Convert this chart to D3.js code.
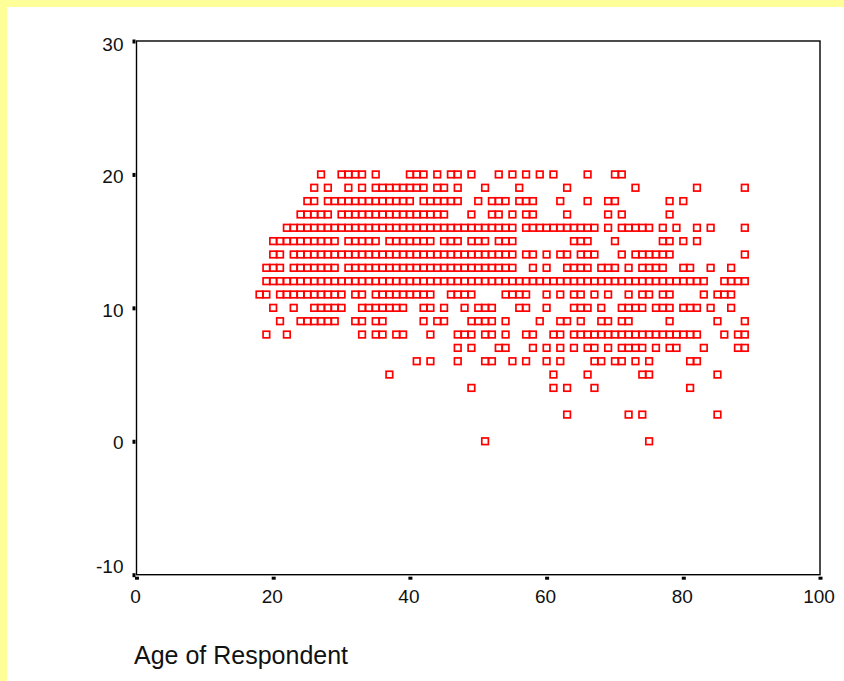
<!DOCTYPE html>
<html><head><meta charset="utf-8">
<script src="https://cdn.jsdelivr.net/npm/d3@7"></script>
<style>html,body{margin:0;padding:0;background:#fff}svg{display:block}text{font-family:"Liberation Sans",Arial,sans-serif;fill:#111}</style>
</head><body><div id="chart"></div>
<script>
const xLabel = "Age of Respondent";
const xTicks = [0,20,40,60,80,100];
const yTicks = [-10,0,10,20,30];
const ageRange = [0,100];
const valueRange = [-10,30];
// ages observed at each value
const v20 = [27,30,31,32,33,35,40,41,42,44,46,47,49,53,55,57,59,61,66,70,71];
const v19 = [26,28,31,33,35,36,37,38,39,40,41,42,44,45,47,51,56,63,73,82,89];
const v18 = [25,26,28,29,30,31,32,33,34,35,36,37,38,39,40,42,43,44,45,46,47,50,52,53,54,56,57,58,62,66,69,70,78,80];
const v17 = [24,25,26,27,28,30,31,32,33,34,35,36,37,38,39,40,41,42,43,44,45,49,52,53,55,57,58,63,69,71,78];
const v16 = [22,23,24,25,26,27,28,29,30,31,32,33,34,35,36,37,38,39,40,41,42,43,44,45,46,47,48,49,50,51,52,53,54,55,57,58,59,60,61,62,63,64,65,66,67,69,71,72,73,74,75,77,79,82,84,89];
const v15 = [20,21,22,23,24,25,26,27,28,29,31,32,33,34,35,37,38,39,40,41,42,43,45,46,47,49,50,51,53,54,55,64,65,66,70,77,78,80,82];
const v14 = [20,21,23,24,25,26,27,28,29,30,31,32,33,34,35,36,37,38,39,40,41,42,43,44,45,46,47,48,49,50,51,52,53,54,55,57,58,60,62,63,65,66,67,71,73,74,75,76,77,78,89];
const v13 = [19,20,21,23,24,25,26,27,28,29,31,32,33,34,35,36,37,38,39,40,41,42,43,44,45,46,47,48,49,50,51,52,53,54,55,58,60,63,64,65,66,68,69,70,72,74,75,76,77,80,81,84,87];
const v12 = [19,20,21,22,23,24,25,26,27,28,29,30,31,32,33,34,35,36,37,38,39,40,41,42,43,44,45,46,47,48,49,50,51,52,53,54,55,56,57,58,59,60,61,62,63,64,65,66,67,68,69,70,71,72,73,74,75,76,77,78,79,80,81,82,83,86,87,88,89];
const v11 = [18,19,21,22,23,24,25,26,27,28,29,30,32,33,35,36,37,38,39,40,41,42,43,46,47,48,49,54,55,56,57,60,62,64,65,67,69,72,74,75,77,78,83,85,86,87];
const v10 = [20,23,26,27,28,29,30,33,34,35,36,37,38,39,42,43,45,48,50,51,52,56,57,60,64,65,66,68,71,72,73,74,76,77,78,80,81,82,84,87];
const v9 = [21,24,25,26,27,28,29,32,33,35,36,42,44,45,49,50,51,52,54,59,62,63,65,68,69,71,72,78,85,89];
const v8 = [19,22,33,35,36,38,39,43,47,48,49,51,52,54,57,58,61,62,64,65,66,67,68,69,70,71,72,73,74,75,76,77,78,79,80,81,82,86,88,89];
const v7 = [47,49,53,54,58,60,62,64,66,67,69,71,72,73,74,76,78,79,83,88,89];
const v6 = [41,43,47,51,52,55,57,60,62,67,68,70,71,73,75,81,82];
const v5 = [37,61,66,74,75,85];
const v4 = [49,61,63,67,81];
const v2 = [63,72,74,85];
const v0 = [51,75];
const rows = [[20,v20],[19,v19],[18,v18],[17,v17],[16,v16],[15,v15],[14,v14],[13,v13],[12,v12],[11,v11],[10,v10],[9,v9],[8,v8],[7,v7],[6,v6],[5,v5],[4,v4],[2,v2],[0,v0]];
const points = rows.flatMap(([v,ages]) => ages.map(a => ({age:a,value:v})));

const W=844,H=681;
const svg=d3.select("#chart").append("svg").attr("width",W).attr("height",H);
svg.append("rect").attr("width",W).attr("height",H).attr("fill","#ffff99");
svg.append("rect").attr("x",7).attr("y",7).attr("width",W-7).attr("height",H-7).attr("fill","#fff");

const x=d3.scaleLinear().domain(ageRange).range([136.5,820]);
const y=d3.scaleLinear().domain(valueRange).range([574.7,41]);

svg.append("rect").attr("x",x(0)).attr("y",y(30)).attr("width",x(100)-x(0)).attr("height",y(-10)-y(30))
  .attr("fill","none").attr("stroke","#000").attr("stroke-width",1.4);

const s=6.6;
svg.append("g").selectAll("rect").data(points).join("rect")
  .attr("x",d=>x(d.age)-s/2).attr("y",d=>y(d.value)-s/2).attr("width",s).attr("height",s)
  .attr("fill","none").attr("stroke","#f00").attr("stroke-width",1.7);

// axes: tick marks are small black blocks, labels via d3 axis
const gx=svg.append("g").attr("transform",`translate(0,${y(-10)})`)
  .call(d3.axisBottom(x).tickValues(xTicks).tickSize(0).tickPadding(0).tickFormat(String));
gx.select(".domain").remove();
gx.selectAll("text").attr("y",15).attr("dy",0).attr("dx",-1.5).attr("dominant-baseline","hanging").style("font-size","19px");
gx.selectAll(".tick").append("rect").attr("x",-2).attr("y",2).attr("width",4).attr("height",3).attr("fill","#000");

const labelShift={"30":3,"20":2,"10":2,"0":1,"-10":-9};
const gy=svg.append("g").attr("transform",`translate(${x(0)},0)`)
  .call(d3.axisLeft(y).tickValues(yTicks).tickSize(0).tickPadding(0).tickFormat(String));
gy.select(".domain").remove();
gy.selectAll("text").attr("x",-13).attr("dy",null).style("font-size","19px").attr("y",d=>labelShift[d]+6.5);
gy.selectAll(".tick").append("rect").attr("x",-4).attr("y",-2).attr("width",3).attr("height",4).attr("fill","#000");

svg.append("text").attr("x",134).attr("y",663.5).style("font-size","25px").text(xLabel);
</script></body></html>
